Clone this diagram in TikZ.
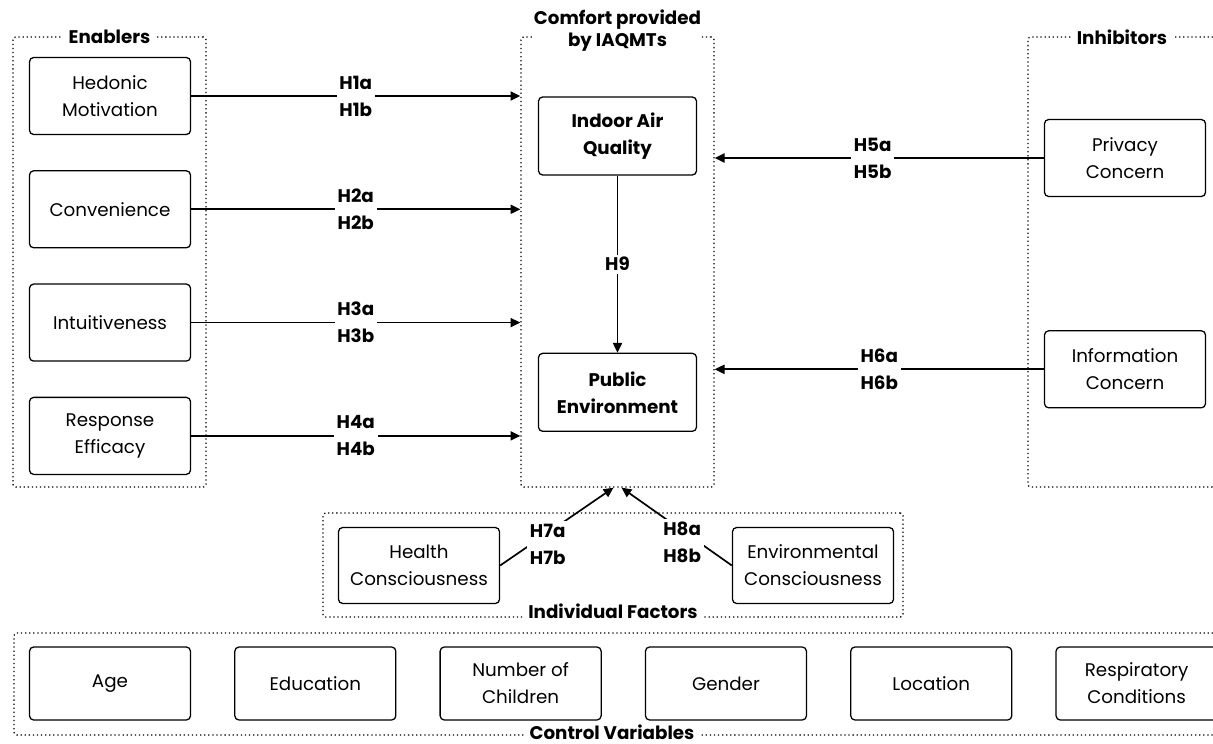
\documentclass[tikz,border=0pt]{standalone}
\usepackage{fontspec}
\setmainfont{Poppins}
\usepackage{tikz}
\usetikzlibrary{positioning,arrows.meta,calc}

\begin{document}
\begin{tikzpicture}[
    x=0.025cm, y=-0.025cm,
    node distance=0.875cm and 1.075cm,
    factor/.style={rectangle, draw=black, line width=0.9pt, rounded corners=3pt, fill=white, minimum width=4.025cm, minimum height=1.925cm, align=center, font=\fontsize{13}{19.2}\selectfont},
    core/.style={factor, minimum width=3.95cm, minimum height=1.95cm, font=\fontsize{13}{19.2}\selectfont\bfseries},
    control/.style={factor, minimum height=1.825cm},
    group/.style={draw=black, dotted, line width=0.9pt, rounded corners=2pt, inner sep=0pt},
    grouplabel/.style={fill=white, inner xsep=4pt, inner ysep=1pt, align=center, font=\fontsize{13}{19.2}\selectfont\bfseries},
    hyp/.style={fill=white, inner sep=2pt, align=center, font=\fontsize{13}{19.2}\selectfont\bfseries},
    arrow/.style={-{Triangle[length=7pt,width=6.5pt]}, line width=1.2pt}
]
\useasboundingbox (0,0) rectangle (1213,744);

% Group frames
\node[group, minimum width=4.825cm, minimum height=11.25cm] (enablers) at (109.5,262) {};
\node[group, minimum width=4.825cm, minimum height=11.25cm] (comfort) at (617.5,262) {};
\node[group, minimum width=14.5cm, minimum height=2.6cm] (indiv) at (613,565) {};
\draw[group] (1213,37) -| (1028,487) -- (1213,487);
\draw[group] (1213,633) -| (14,735) -- (1213,735);

% Left column - Enablers
\node[factor] (hedonic) at (110,96) {Hedonic\\Motivation};
\node[factor, below=of hedonic] (convenience) {Convenience};
\node[factor, below=of convenience] (intuitive) {Intuitiveness};
\node[factor, below=of intuitive] (efficacy) {Response\\Efficacy};

% Middle column - Comfort
\node[core] (iaq) at (617.5,136) {Indoor Air\\Quality};
\node[core, below=4.425cm of iaq] (publicenv) {Public\\Environment};

% Right column - Inhibitors
\node[factor] (privacy) at (1125,158) {Privacy\\Concern};
\node[factor, below=3.325cm of privacy] (information) {Information\\Concern};

% Individual factors
\node[factor, minimum height=1.9cm] (health) at (419,565.5) {Health\\Consciousness};
\node[factor, minimum height=1.9cm] (environ) at (813,565.5) {Environmental\\Consciousness};

% Control variables
\node[control] (age) at (110,683.5) {Age};
\node[control, right=of age] (education) {Education};
\node[control, right=of education] (children) {Number of\\Children};
\node[control, right=of children] (gender) {Gender};
\node[control, right=of gender] (location) {Location};
\node[control, right=of location] (respiratory) {Respiratory\\Conditions};

% Group labels
\node[grouplabel] (enablerslbl) at (enablers.north) {Enablers};
\node[grouplabel, inner xsep=0pt, font=\fontsize{13}{15.6}\selectfont\bfseries] (comfortlbl) at (617.5,31) {Comfort provided\\by IAQMTs};
\node[grouplabel] (inhibitorslbl) at (1122,37) {Inhibitors};
\node[grouplabel] (indivlbl) at ([yshift=0.15cm]indiv.south) {Individual Factors};
\node[grouplabel, inner ysep=0pt] (controllbl) at (612,732) {Control Variables};

% Arrows
\draw[arrow] (hedonic.east) -- node[hyp]{H1a\\H1b} (hedonic.east -| comfort.west);
\draw[arrow] (convenience.east) -- node[hyp]{H2a\\H2b} (convenience.east -| comfort.west);
\draw[arrow] (intuitive.east) -- node[hyp]{H3a\\H3b} (intuitive.east -| comfort.west);
\draw[arrow] (efficacy.east) -- node[hyp]{H4a\\H4b} (efficacy.east -| comfort.west);
\draw[arrow] (privacy.west) -- node[hyp, pos=0.52]{H5a\\H5b} (privacy.west -| comfort.east);
\draw[arrow] (information.west) -- node[hyp, pos=0.5]{H6a\\H6b} (information.west -| comfort.east);
\draw[arrow] (iaq) -- node[hyp]{H9} (publicenv);
\draw[arrow] (health.east) -- node[hyp, pos=0.42, yshift=-0.28cm]{H7a\\H7b} ([xshift=-0.1cm]comfort.south);
\draw[arrow] (environ.west) -- node[hyp, pos=0.45, yshift=-0.3cm]{H8a\\H8b} ([xshift=0.1cm]comfort.south);

\end{tikzpicture}
\end{document}
